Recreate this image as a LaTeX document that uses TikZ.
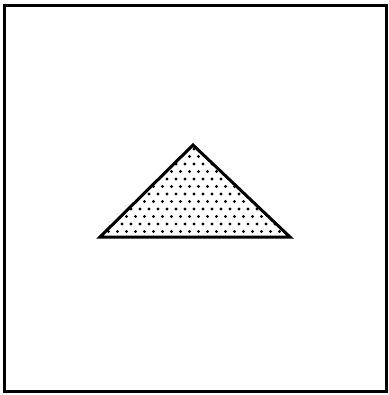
\documentclass[tikz,border=0pt]{standalone}
\begin{document}
\begin{tikzpicture}[x=1pt,y=-1pt,
  frame/.style={draw=black,line width=3pt},
  tri/.style={draw=black,line width=3pt,line join=miter},
  dotfill/.style={fill=black}]
\useasboundingbox (0,0) rectangle (388,395);
\fill[white] (0,0) rectangle (388,395);
\draw[frame] (4.5,5.5) rectangle (386,391);
\coordinate (A) at (193,145);
\coordinate (B) at (100,237);
\coordinate (C) at (290,237);
\begin{scope}
  \clip (A) -- (B) -- (C) -- cycle;
  \foreach \r in {0,...,13}{
    \foreach \c in {0,...,23}{
      \pgfmathsetmacro{\xx}{95+\c*9+mod(\r,2)*4.5}
      \pgfmathsetmacro{\yy}{149+\r*7.5}
      \fill[dotfill] (\xx,\yy) circle (1.6);
    }
  }
\end{scope}
\draw[tri] (A) -- (B) -- (C) -- cycle;
\end{tikzpicture}
\end{document}
